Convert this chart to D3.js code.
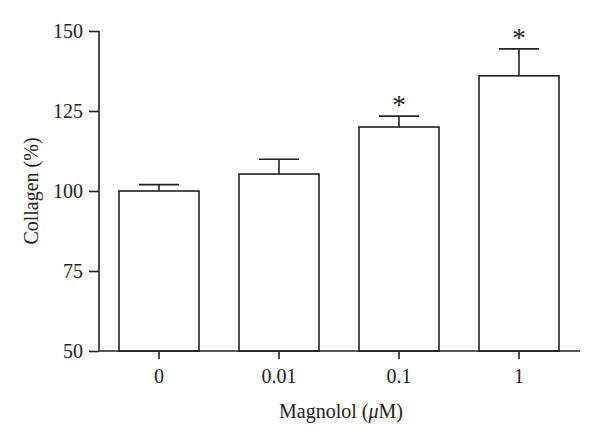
<!DOCTYPE html>
<html>
<head>
<meta charset="utf-8">
<script src="https://cdn.jsdelivr.net/npm/d3@7"></script>
<style>
  body { margin: 0; background: #fff; }
  text { font-family: 'Liberation Serif', 'DejaVu Serif', serif; fill: #222; }
</style>
</head>
<body>
<svg id="chart"></svg>
<script>
const categories = ['0', '0.01', '0.1', '1'];
const means = [100, 105.3, 120, 136];
const errors = [2, 4.6, 3.4, 8.4];
const significant = [false, false, true, true];
const yTicks = [50, 75, 100, 125, 150];

const width = 600, height = 443;
const svg = d3.select('#chart').attr('width', width).attr('height', height);

const x = d3.scaleBand().domain(categories).range([99, 579]).paddingInner(1 / 3).paddingOuter(1 / 6);
const y = d3.scaleLinear().domain([50, 150]).range([351, 31]);

const g = svg.append('g');

// bars
g.selectAll('.bar')
  .data(categories)
  .enter()
  .append('rect')
  .attr('x', d => x(d))
  .attr('y', (d, i) => y(means[i]))
  .attr('width', x.bandwidth())
  .attr('height', (d, i) => y(50) - y(means[i]))
  .attr('fill', '#fff')
  .attr('stroke', '#222')
  .attr('stroke-width', 1.6);

// error bars
const cap = x.bandwidth() / 4;
categories.forEach((d, i) => {
  const cx = x(d) + x.bandwidth() / 2;
  g.append('line')
    .attr('x1', cx).attr('x2', cx)
    .attr('y1', y(means[i])).attr('y2', y(means[i] + errors[i]))
    .attr('stroke', '#222').attr('stroke-width', 1.6);
  g.append('line')
    .attr('x1', cx - cap).attr('x2', cx + cap)
    .attr('y1', y(means[i] + errors[i])).attr('y2', y(means[i] + errors[i]))
    .attr('stroke', '#222').attr('stroke-width', 1.6);
  if (significant[i]) {
    g.append('text')
      .attr('x', cx)
      .attr('y', y(means[i] + errors[i]) - 2)
      .attr('text-anchor', 'middle')
      .attr('font-size', 27)
      .text('*');
  }
});

// axes
const yAxis = svg.append('g')
  .attr('transform', 'translate(99,0)')
  .call(d3.axisLeft(y).tickValues(yTicks).tickSize(10).tickPadding(6));
const xAxis = svg.append('g')
  .attr('transform', 'translate(0,351)')
  .call(d3.axisBottom(x).tickSize(8).tickPadding(10));

[yAxis, xAxis].forEach(a => {
  a.selectAll('path, line').attr('stroke', '#222').attr('stroke-width', 1.6);
  a.selectAll('text').attr('font-size', 20).attr('fill', '#222')
    .style('font-family', "'Liberation Serif', serif");
});
xAxis.select('.domain').attr('d', 'M99,0H580');
yAxis.select('.domain').attr('d', 'M0,31V351');

svg.append('text')
  .attr('x', 341)
  .attr('y', 418)
  .attr('text-anchor', 'middle')
  .attr('font-size', 20)
  .html('Magnolol (<tspan font-style="italic">μ</tspan>M)');

svg.append('text')
  .attr('transform', 'translate(38,191) rotate(-90)')
  .attr('text-anchor', 'middle')
  .attr('font-size', 20)
  .text('Collagen (%)');
</script>
</body>
</html>
